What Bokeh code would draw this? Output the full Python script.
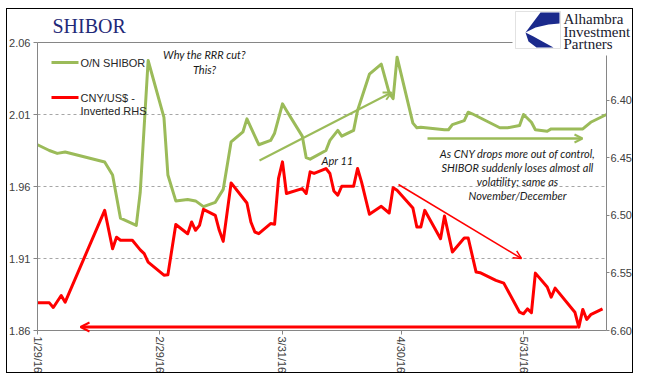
import pandas as pd
from bokeh.plotting import figure
from bokeh.models import (Range1d, LinearAxis, FixedTicker, NumeralTickFormatter,
                          CustomJSTickFormatter, Label, Arrow, OpenHead,
                          BoxAnnotation, PolyAnnotation)
from bokeh.embed import file_html
from bokeh.resources import INLINE

# ---------------- data ----------------
shibor_dates = ["2016-01-29", "2016-02-01", "2016-02-03", "2016-02-05", "2016-02-15", "2016-02-17",
                "2016-02-19", "2016-02-23", "2016-02-24", "2016-02-26", "2016-03-01", "2016-03-02",
                "2016-03-04", "2016-03-07", "2016-03-09", "2016-03-11", "2016-03-14", "2016-03-16",
                "2016-03-18", "2016-03-21", "2016-03-22", "2016-03-25", "2016-03-28", "2016-03-29",
                "2016-03-31", "2016-04-01", "2016-04-05", "2016-04-06", "2016-04-07", "2016-04-11",
                "2016-04-12", "2016-04-14", "2016-04-15", "2016-04-18", "2016-04-19", "2016-04-22",
                "2016-04-25", "2016-04-27", "2016-04-28", "2016-04-29", "2016-05-03", "2016-05-04",
                "2016-05-05", "2016-05-11", "2016-05-12", "2016-05-13", "2016-05-16", "2016-05-17",
                "2016-05-18", "2016-05-25", "2016-05-27", "2016-05-30", "2016-05-31", "2016-06-02",
                "2016-06-03", "2016-06-06", "2016-06-07", "2016-06-15", "2016-06-17", "2016-06-21"]
shibor_values = [1.989, 1.985, 1.983, 1.984, 1.977, 1.968,
                 1.938, 1.933, 1.956, 2.0475, 2.008, 1.968,
                 1.950, 1.951, 1.950, 1.946, 1.949, 1.958,
                 1.991, 1.998, 2.007, 1.989, 1.992, 1.997,
                 2.0174, 2.0128, 1.995, 1.980, 1.979, 1.985,
                 1.992, 1.999, 1.995, 1.999, 2.0128, 2.038,
                 2.045, 2.025, 2.021, 2.0498, 2.004, 2.0008,
                 2.0012, 1.9994, 1.9994, 2.003, 2.0058, 2.0116,
                 2.0105, 2.0008, 2.0008, 2.0024, 2.010, 2.0046,
                 1.9994, 1.9984, 2.000, 2.000, 2.0046, 2.010]

cny_dates = ["2016-01-29", "2016-02-01", "2016-02-02", "2016-02-04", "2016-02-05", "2016-02-15",
             "2016-02-17", "2016-02-18", "2016-02-19", "2016-02-22", "2016-02-24", "2016-02-25",
             "2016-02-26", "2016-03-01", "2016-03-02", "2016-03-04", "2016-03-07", "2016-03-08",
             "2016-03-09", "2016-03-10", "2016-03-11", "2016-03-14", "2016-03-15", "2016-03-16",
             "2016-03-18", "2016-03-22", "2016-03-23", "2016-03-24", "2016-03-25", "2016-03-28",
             "2016-03-29", "2016-03-30", "2016-03-31", "2016-04-01", "2016-04-05", "2016-04-06",
             "2016-04-07", "2016-04-08", "2016-04-11", "2016-04-12", "2016-04-13", "2016-04-14",
             "2016-04-15", "2016-04-18", "2016-04-19", "2016-04-20", "2016-04-22", "2016-04-25",
             "2016-04-27", "2016-04-28", "2016-04-29", "2016-05-03", "2016-05-04", "2016-05-05",
             "2016-05-06", "2016-05-10", "2016-05-11", "2016-05-13", "2016-05-16", "2016-05-17",
             "2016-05-19", "2016-05-20", "2016-05-24", "2016-05-26", "2016-05-30", "2016-05-31",
             "2016-06-01", "2016-06-02", "2016-06-03", "2016-06-06", "2016-06-07", "2016-06-08",
             "2016-06-13", "2016-06-14", "2016-06-15", "2016-06-16", "2016-06-17", "2016-06-20"]
cny_values = [6.576, 6.576, 6.580, 6.5696, 6.5754, 6.4957,
              6.529, 6.519, 6.5217, 6.5217, 6.530, 6.5333,
              6.5406, 6.552, 6.5516, 6.508, 6.516, 6.5058,
              6.513, 6.5087, 6.4948, 6.500, 6.513, 6.5226,
              6.4719, 6.4893, 6.5058, 6.5145, 6.5159, 6.5072,
              6.5078, 6.468, 6.4536, 6.4811, 6.4768, 6.4811,
              6.4623, 6.4637, 6.4594, 6.4637, 6.4789, 6.4826,
              6.4748, 6.4748, 6.4594, 6.471, 6.4991, 6.4922,
              6.498, 6.476, 6.4783, 6.4937, 6.5102, 6.5102,
              6.4957, 6.5203, 6.5006, 6.5319, 6.5197, 6.5197,
              6.5493, 6.5498, 6.5565, 6.5589, 6.5841, 6.5855,
              6.5812, 6.5846, 6.5502, 6.5623, 6.571, 6.5632,
              6.5841, 6.5971, 6.5817, 6.5904, 6.5863, 6.5812]

date_ticks = ["2016-01-29", "2016-02-29", "2016-03-31", "2016-04-30", "2016-05-31"]
left_ticks = [1.86, 1.91, 1.96, 2.01, 2.06]
right_ticks = [6.40, 6.45, 6.50, 6.55, 6.60]
x_limits = ["2016-01-29", "2016-06-21"]
left_limits = [1.86, 2.06]
right_limits = [6.60, 6.35]   # inverted RHS

GREEN = "#9BBB59"
RED = "#FF0000"
AXIS = "#868686"
TXT = "#404040"


def to_ms(s):
    return (pd.Timestamp(s) - pd.Timestamp("1970-01-01")) / pd.Timedelta(milliseconds=1)


x0, x1 = to_ms(x_limits[0]), to_ms(x_limits[1])

# layout (reference page pixels): axes box x 37..606, y 42..330;
# the drawing frame fills the whole canvas x 7..634, y 9..374 and the axes sit at fixed locations
FL, FR, FT, FB = 37.0, 606.0, 42.0, 330.0
CL, CR, CT, CB = 7.0, 634.0, 9.0, 374.0
W, H = int(CR - CL), int(CB - CT)
l_span = left_limits[1] - left_limits[0]
r_span = right_limits[1] - right_limits[0]
x_span = x1 - x0
fx_l = (FL - CL) / (FR - FL)
fx_r = (CR - FR) / (FR - FL)
fy_t = (FT - CT) / (FB - FT)
fy_b = (CB - FB) / (FB - FT)


def PX(px):
    return x0 + (px - FL) / (FR - FL) * x_span


def PY(py):
    return left_limits[0] + (FB - py) / (FB - FT) * l_span


p = figure(width=W, height=H, x_axis_type="datetime",
           x_range=Range1d(x0 - fx_l * x_span, x1 + fx_r * x_span),
           y_range=Range1d(left_limits[0] - fy_b * l_span, left_limits[1] + fy_t * l_span),
           output_backend="svg", toolbar_location=None,
           min_border_left=0, min_border_right=0, min_border_top=0, min_border_bottom=0)
p.styles = {"border": "1px solid black", "margin-left": "6px", "margin-top": "8px"}
p.extra_y_ranges = {"fx": Range1d(right_limits[0] - fy_b * r_span,
                                  right_limits[1] + fy_t * r_span)}

p.outline_line_color = None
p.xgrid.visible = False
p.ygrid.visible = False

# axes
p.xaxis.ticker = FixedTicker(ticks=[to_ms(d) for d in date_ticks])
p.xaxis.formatter = CustomJSTickFormatter(code="""
const d = new Date(tick);
return (d.getUTCMonth()+1) + "/" + d.getUTCDate() + "/" + String(d.getUTCFullYear()).slice(2);
""")
p.xaxis.major_label_orientation = "vertical"
p.xaxis.bounds = (x0, x1)
p.xaxis.fixed_location = left_limits[0]
p.yaxis.ticker = FixedTicker(ticks=left_ticks)
p.yaxis.formatter = NumeralTickFormatter(format="0.00")
p.yaxis.bounds = (left_limits[0], left_limits[1])
p.yaxis.fixed_location = x0

raxis = LinearAxis(y_range_name="fx", ticker=FixedTicker(ticks=right_ticks),
                   formatter=NumeralTickFormatter(format="0.00"),
                   bounds=(min(right_limits), max(right_limits)),
                   fixed_location=x1)
p.add_layout(raxis, "right")

for ax in [p.xaxis[0], p.yaxis[0], raxis]:
    ax.axis_line_color = AXIS
    ax.major_tick_line_color = AXIS
    ax.minor_tick_line_color = None
    ax.major_tick_out = 4
    ax.major_tick_in = 0
    ax.major_label_standoff = 3
    ax.major_label_text_font = "Liberation Sans"
    ax.major_label_text_font_size = "11px"
    ax.major_label_text_color = TXT
p.xaxis.major_label_standoff = 2
raxis.major_tick_out = 3
raxis.major_label_standoff = 1

# dashed gridlines at the inner left ticks, and the top border of the plotting box
for t in left_ticks[1:-1]:
    p.add_layout(Arrow(x_start=x0, y_start=t, x_end=x1, y_end=t, end=None,
                       line_color="#A6A6A6", line_dash="3 3", line_width=1, level="underlay"))
p.add_layout(Arrow(x_start=x0, y_start=left_limits[1], x_end=x1, y_end=left_limits[1], end=None,
                   line_color=AXIS, line_width=1, level="underlay"))

# series
p.line(pd.to_datetime(shibor_dates), shibor_values, line_color=GREEN, line_width=3,
       line_join="round")
p.line(pd.to_datetime(cny_dates), cny_values, line_color=RED, line_width=3,
       line_join="round", y_range_name="fx")

# legend (manual)
p.add_layout(Arrow(x_start=PX(51), y_start=PY(62), x_end=PX(78), y_end=PY(62), end=None,
                   line_color=GREEN, line_width=3))
p.add_layout(Arrow(x_start=PX(51), y_start=PY(97), x_end=PX(78), y_end=PY(97), end=None,
                   line_color=RED, line_width=3))
for txt, yy in [("O/N SHIBOR", 62), ("CNY/US$ -", 97), ("Inverted RHS", 110)]:
    p.add_layout(Label(x=PX(80), y=PY(yy), text=txt, text_font="Liberation Sans",
                       text_font_size="11px", text_color="#262626", text_baseline="middle"))

# annotation arrows
p.add_layout(Arrow(x_start=PX(259), y_start=PY(160), x_end=PX(391), y_end=PY(92),
                   line_color=GREEN, line_width=2,
                   end=OpenHead(size=8, line_color=GREEN, line_width=2)))
p.add_layout(Arrow(x_start=PX(427), y_start=PY(138), x_end=PX(582), y_end=PY(138),
                   line_color=GREEN, line_width=2.5,
                   end=OpenHead(size=8, line_color=GREEN, line_width=2)))
p.add_layout(Arrow(x_start=PX(398), y_start=PY(184), x_end=PX(521), y_end=PY(258),
                   line_color=RED, line_width=1.5,
                   end=OpenHead(size=8, line_color=RED, line_width=1.5)))
p.add_layout(Arrow(x_start=PX(577), y_start=PY(326.5), x_end=PX(80), y_end=PY(326.5),
                   line_color=RED, line_width=3,
                   end=OpenHead(size=9, line_color=RED, line_width=2)))

# annotation texts
ITAL = dict(text_font="Lato", text_font_style="italic", text_font_size="11px",
            text_color="#1a1a1a", text_align="center", text_baseline="middle")
for txt, xx, yy in [("Why the RRR cut?", 204, 54), ("This?", 204, 69), ("Apr 11", 337, 160),
                    ("As CNY drops more out of control,", 517, 153),
                    ("SHIBOR suddenly loses almost all", 517, 167),
                    ("volatility; same as", 517, 181),
                    ("November/December", 517, 195)]:
    p.add_layout(Label(x=PX(xx), y=PY(yy), text=txt, **ITAL))

# title
p.add_layout(Label(x=PX(52), y=PY(25), text="SHIBOR", text_font="Liberation Serif",
                   text_font_size="20px", text_color="#1F2A78", text_baseline="middle"))

# logo
p.add_layout(BoxAnnotation(left=PX(512), right=PX(612), top=PY(30), bottom=PY(55),
                           fill_color="white", fill_alpha=1, line_color=None, level="overlay"))
p.add_layout(BoxAnnotation(left=PX(515), right=PX(560), top=PY(11), bottom=PY(48),
                           fill_color="white", fill_alpha=1, line_color="#A0A0A0",
                           line_width=1, level="overlay"))
p.add_layout(PolyAnnotation(xs=[PX(v) for v in [540, 559, 559, 548, 535, 525]],
                            ys=[PY(v) for v in [12, 12, 23, 24, 27, 32]],
                            fill_color="#1B2A8C", fill_alpha=1, line_color=None, level="overlay"))
p.add_layout(PolyAnnotation(xs=[PX(v) for v in [525, 533, 542, 553, 536, 528]],
                            ys=[PY(v) for v in [32, 36, 41, 47, 47, 41]],
                            fill_color="#1B2A8C", fill_alpha=1, line_color=None, level="overlay"))
for txt, yy in [("Alhambra", 18), ("Investment", 31), ("Partners", 43)]:
    p.add_layout(Label(x=PX(563), y=PY(yy), text=txt, text_font="Liberation Serif",
                       text_font_size="15px", text_color="#1a1a2e", text_baseline="middle",
                       level="overlay"))

open("out.html", "w").write(file_html(p, INLINE))
